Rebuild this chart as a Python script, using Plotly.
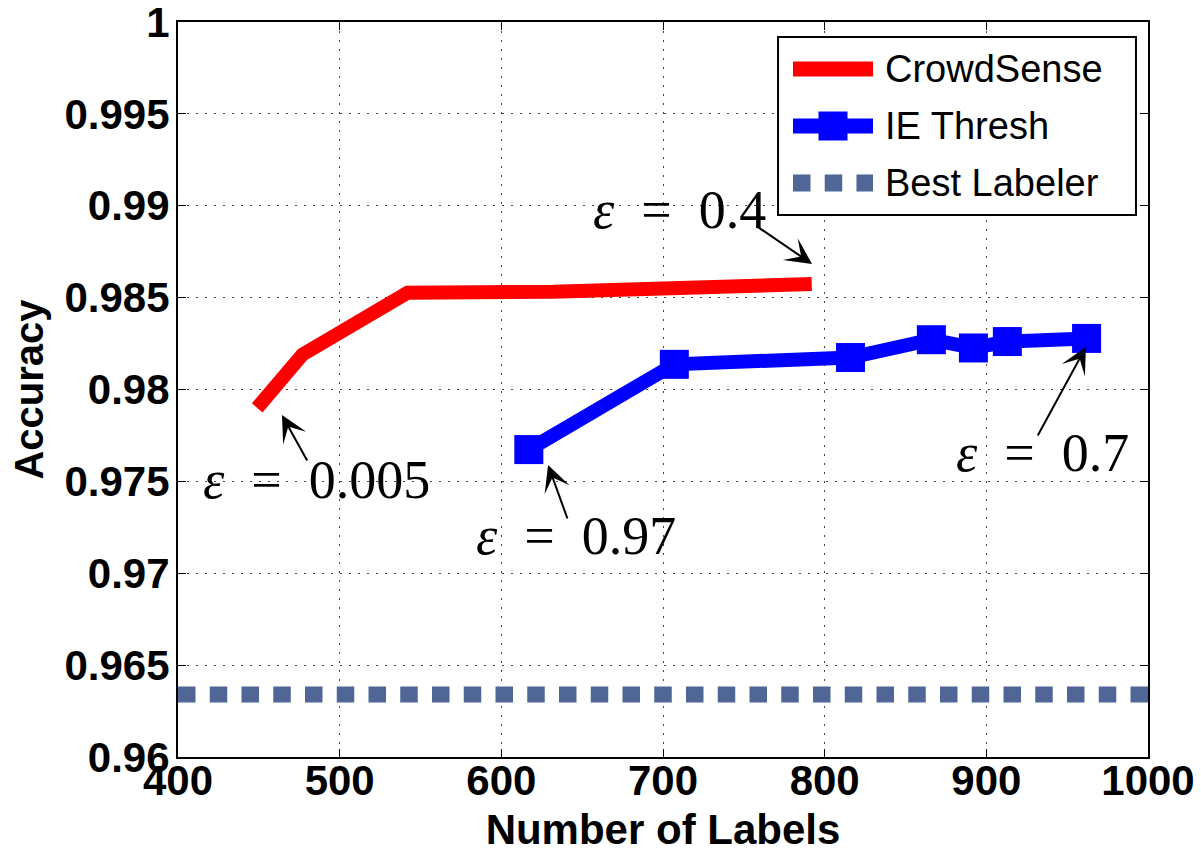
import plotly.graph_objects as go

# ---------------- data ----------------
crowdsense_x = [449, 477, 542, 632, 792]
crowdsense_y = [0.9790, 0.9819, 0.98527, 0.98532, 0.98574]

ie_thresh_x = [617, 707, 816, 866, 892, 913, 962]
ie_thresh_y = [0.97673, 0.98137, 0.98174, 0.98271, 0.98226, 0.98261, 0.98278]

best_labeler_x = [400, 1000]
best_labeler_y = [0.9634, 0.9634]

x_tickvals = [400, 500, 600, 700, 800, 900, 1000]
x_ticktext = ["400", "500", "600", "700", "800", "900", "1000"]
y_tickvals = [0.96, 0.965, 0.97, 0.975, 0.98, 0.985, 0.99, 0.995, 1.0]
y_ticktext = ["0.96", "0.965", "0.97", "0.975", "0.98", "0.985", "0.99", "0.995", "1"]

series_names = ["CrowdSense", "IE Thresh", "Best Labeler"]

# annotations: value label, text centre (x, y), arrow tail (x, y), arrow head (x, y)
eps_values = ["0.4", "0.005", "0.97", "0.7"]
eps_text_x = [709.9, 485.4, 646.2, 935.0]
eps_text_y = [0.98977, 0.97507, 0.97203, 0.97654]
eps_tail_x = [756.9, 480.4, 641.2, 931.3]
eps_tail_y = [0.98895, 0.97605, 0.97290, 0.97741]
eps_head_x = [792.2, 464.3, 628.9, 961.6]
eps_head_y = [0.98683, 0.97861, 0.97589, 0.98231]

# ---------------- styles ----------------
RED = "#FF0000"
BLUE = "#0000FF"
SLATE = "#4F6696"
SANS = "Liberation Sans, Arial, sans-serif"
SERIF = "Liberation Serif, Times New Roman, serif"

fig = go.Figure()

fig.add_trace(go.Scatter(
    x=best_labeler_x, y=best_labeler_y, mode="lines", name=series_names[2],
    line=dict(color=SLATE, width=16, dash="17.5px,14.25px"), showlegend=False))

fig.add_trace(go.Scatter(
    x=crowdsense_x, y=crowdsense_y, mode="lines", name=series_names[0],
    line=dict(color=RED, width=14), showlegend=False))

fig.add_trace(go.Scatter(
    x=ie_thresh_x, y=ie_thresh_y, mode="lines+markers", name=series_names[1],
    line=dict(color=BLUE, width=14),
    marker=dict(symbol="square", size=29, color=BLUE, line=dict(width=0)),
    showlegend=False))

annotations = []
for v, tx, ty in zip(eps_values, eps_text_x, eps_text_y):
    annotations.append(dict(
        x=tx, y=ty, xref="x", yref="y",
        text="<i>ε</i>\u2002=\u2002" + v, showarrow=False,
        xanchor="center", yanchor="middle",
        font=dict(family=SERIF, size=54, color="black")))
for hx, hy, tx, ty in zip(eps_head_x, eps_head_y, eps_tail_x, eps_tail_y):
    annotations.append(dict(
        x=hx, y=hy, xref="x", yref="y", ax=tx, ay=ty, axref="x", ayref="y",
        text="", showarrow=True, arrowhead=3, arrowsize=2.2, arrowwidth=2,
        arrowcolor="black", standoff=0, startstandoff=0))

# ---------------- manual legend (paper coordinates of plot area) ----------------
LEG_X0, LEG_X1, LEG_Y0, LEG_Y1 = 0.6186, 0.9876, 0.7374, 0.9796
SAMPLE_X0, SAMPLE_X1 = 0.6340, 0.7165
ROW_Y = [0.9361, 0.8585, 0.7810]
TEXT_X = 0.7268

shapes = [
    dict(type="rect", xref="paper", yref="paper", x0=LEG_X0, x1=LEG_X1, y0=LEG_Y0, y1=LEG_Y1,
         line=dict(color="black", width=2), fillcolor="white", layer="above"),
    dict(type="line", xref="paper", yref="paper", x0=SAMPLE_X0, x1=SAMPLE_X1, y0=ROW_Y[0], y1=ROW_Y[0],
         line=dict(color=RED, width=15), layer="above"),
    dict(type="line", xref="paper", yref="paper", x0=SAMPLE_X0, x1=SAMPLE_X1, y0=ROW_Y[1], y1=ROW_Y[1],
         line=dict(color=BLUE, width=15), layer="above"),
    dict(type="rect", xref="paper", yref="paper", xsizemode="pixel", ysizemode="pixel",
         xanchor=(SAMPLE_X0 + SAMPLE_X1) / 2, yanchor=ROW_Y[1],
         x0=-14.5, x1=14.5, y0=-14.5, y1=14.5,
         line=dict(width=0), fillcolor=BLUE, layer="above"),
    dict(type="line", xref="paper", yref="paper", x0=SAMPLE_X0, x1=SAMPLE_X1, y0=ROW_Y[2], y1=ROW_Y[2],
         line=dict(color=SLATE, width=17, dash="17.5px,14.25px"), layer="above"),
]
for name, ry in zip(series_names, ROW_Y):
    annotations.append(dict(
        x=TEXT_X, y=ry, xref="paper", yref="paper", text=name, showarrow=False,
        xanchor="left", yanchor="middle",
        font=dict(family=SANS, size=38, color="black")))

axis_common = dict(
    showline=True, linecolor="black", linewidth=2, mirror="ticks",
    ticks="inside", ticklen=8, tickwidth=1, tickcolor="black",
    showgrid=True, gridcolor="#444444", gridwidth=1, griddash="2px,7px",
    zeroline=False, ticklabeloverflow="allow",
    tickfont=dict(family=SANS, size=42, color="black", weight="bold"),
)

fig.update_layout(
    width=1201, height=853,
    margin=dict(l=178, r=53, t=22, b=96, autoexpand=False),
    plot_bgcolor="white", paper_bgcolor="white",
    showlegend=False,
    xaxis=dict(range=[400, 1000], tickvals=x_tickvals, ticktext=x_ticktext,
               ticklabelstandoff=-14,
               title=dict(text="Number of Labels", standoff=16,
                          font=dict(family=SANS, size=42, color="black", weight="bold")),
               **axis_common),
    yaxis=dict(range=[0.96, 1.0], tickvals=y_tickvals, ticktext=y_ticktext,
               ticklabelstandoff=-2,
               title=dict(text="Accuracy", standoff=8,
                          font=dict(family=SANS, size=40, color="black", weight="bold")),
               **axis_common),
    annotations=annotations,
    shapes=shapes,
)

fig.write_html("out.html", config={"displayModeBar": False},
               post_script="document.body.style.margin='0';")
